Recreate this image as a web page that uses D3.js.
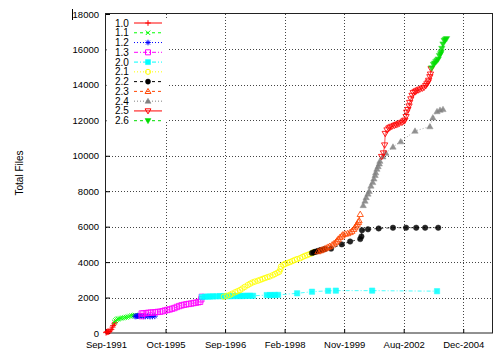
<!DOCTYPE html>
<html><head><meta charset="utf-8">
<script src="https://cdn.jsdelivr.net/npm/d3@7"></script>
<style>
html,body{margin:0;padding:0;background:#fff;}
svg{display:block;font-family:"Liberation Sans",Arial,sans-serif;}
</style></head>
<body>
<script>
// ---------- DATA ----------
const seriesNames = ["1.0","1.1","1.2","1.3","2.0","2.1","2.2","2.3","2.4","2.5","2.6"];
const xTickLabels = ["Sep-1991","Oct-1995","Sep-1996","Feb-1998","Nov-1999","Aug-2002","Dec-2004"];
const yTickValues = [0,2000,4000,6000,8000,10000,12000,14000,16000,18000];
// x position in axis-tick units (0 = first tick label), y = total files
const s10 = [[0,20],[0.01,60],[0.02,50],[0.03,90],[0.04,70],[0.05,80],[0.07,120],[0.09,200],[0.11,330],[0.12,420],[0.14,520],[0.15,600]];
const s11 = [[0.14,620],[0.16,700],[0.18,760],[0.2,790],[0.22,810],[0.25,830],[0.28,850],[0.31,870],[0.34,890],[0.37,920],[0.4,950],[0.43,970],[0.46,990],[0.49,1010]];
const s12 = [[0.49,940],[0.51,950],[0.53,960],[0.55,960],[0.57,970],[0.6,960],[0.63,950],[0.66,940],[0.7,950],[0.74,930],[0.78,940],[0.82,950]];
const s13 = [[0.6,950],[0.6,1100],[0.63,1110],[0.67,1120],[0.71,1140],[0.75,1150],[0.79,1160],[0.83,1170],[0.87,1190],[0.91,1200],[0.95,1230],[0.99,1270],[1.03,1300],[1.07,1330],[1.11,1370],[1.15,1410],[1.19,1470],[1.23,1520],[1.27,1560],[1.31,1590],[1.35,1620],[1.39,1640],[1.43,1660],[1.47,1690],[1.51,1710],[1.55,1740],[1.58,1760],[1.6,1900],[1.61,2040]];
const s20 = [[1.61,2030],[1.66,2050],[1.71,2055],[1.75,2060],[1.8,2065],[1.85,2070],[1.91,2080],[1.95,2080],[1.99,2080],[2.04,2080],[2.08,2080],[2.13,2085],[2.17,2090],[2.21,2090],[2.25,2090],[2.29,2090],[2.33,2095],[2.38,2100],[2.42,2100],[2.47,2100],[2.7,2140],[2.75,2140],[2.79,2140],[2.84,2145],[2.89,2150],[3.21,2240],[3.46,2330],[3.73,2380],[3.86,2390],[4.47,2390],[5.56,2360]];
const s21 = [[1.98,2050],[2.03,2100],[2.08,2150],[2.12,2220],[2.17,2300],[2.21,2360],[2.25,2420],[2.29,2510],[2.33,2600],[2.38,2700],[2.42,2780],[2.46,2850],[2.5,2900],[2.55,2950],[2.59,3000],[2.63,3050],[2.67,3100],[2.71,3150],[2.75,3190],[2.8,3260],[2.84,3330],[2.88,3400],[2.91,3450],[2.93,3600],[2.94,3750],[2.98,3850],[3.01,3900],[3.05,3950],[3.09,4000],[3.13,4060],[3.17,4120],[3.21,4170],[3.26,4220],[3.3,4290],[3.34,4350],[3.38,4400],[3.42,4450],[3.46,4500],[3.49,4560]];
const s22 = [[3.46,4520],[3.49,4550],[3.51,4580],[3.54,4600],[3.56,4630],[3.59,4660],[3.61,4680],[3.65,4710],[3.68,4740],[3.78,4760],[3.96,5000],[4.1,5160],[4.27,5300],[4.29,5450],[4.3,5800],[4.4,5850],[4.58,5900],[4.82,5940],[5.04,5940],[5.21,5940],[5.36,5940],[5.58,5940]];
const s23 = [[3.56,4600],[3.6,4650],[3.63,4700],[3.67,4750],[3.7,4800],[3.73,4850],[3.76,4900],[3.8,4980],[3.83,5050],[3.86,5130],[3.88,5200],[3.9,5300],[3.93,5400],[3.96,5480],[3.98,5550],[4.02,5590],[4.06,5620],[4.1,5680],[4.13,5750],[4.16,5850],[4.18,5950],[4.2,6050],[4.22,6150],[4.24,6250],[4.25,6350],[4.27,6700]];
const s24 = [[4.32,7200],[4.35,7450],[4.37,7650],[4.4,7850],[4.42,8000],[4.45,8300],[4.48,8500],[4.5,8700],[4.52,8900],[4.53,9050],[4.55,9250],[4.57,9400],[4.59,9550],[4.6,9700],[4.65,9950],[4.7,10150],[4.82,10500],[4.95,10800],[5.19,11400],[5.44,11650],[5.49,12150],[5.56,12500],[5.61,12580],[5.66,12620]];
const s25 = [[4.63,9950],[4.66,10150],[4.68,10600],[4.69,11250],[4.72,11450],[4.75,11550],[4.77,11600],[4.8,11650],[4.84,11700],[4.87,11740],[4.9,11780],[4.93,11830],[4.97,11880],[5.0,11950],[5.02,12000],[5.04,12200],[5.05,12450],[5.07,12600],[5.09,12800],[5.1,13000],[5.12,13200],[5.14,13400],[5.16,13550],[5.19,13600],[5.21,13650],[5.24,13700],[5.27,13750],[5.31,13800],[5.34,13850],[5.37,13950],[5.39,14050],[5.41,14150],[5.42,14250],[5.44,14450],[5.45,14600],[5.46,14900]];
const s26 = [[5.47,14950],[5.5,15150],[5.52,15220],[5.54,15300],[5.56,15380],[5.58,15450],[5.6,15650],[5.62,15750],[5.63,15850],[5.64,16050],[5.66,16300],[5.68,16500],[5.7,16560],[5.72,16600]];

const seriesData = [s10,s11,s12,s13,s20,s21,s22,s23,s24,s25,s26];
const colors = ["#ff0000","#00ff00","#0000ff","#ff00ff","#00ffff","#ffff00","#000000","#ff4500","#808080","#ff0000","#00dd00"];
const markers = ["plus","cross","star","squareOpen","squareFilled","circleOpen","circleFilled","triOpen","triFilled","triDownOpen","triDownFilled"];
const dashes = [null,"3,3","1,2","4,2,1,2","4,2,1,2","1,2","3,3","3,3","1,2",null,"3,3"];

// ---------- LAYOUT ----------
const W = 494, H = 349;
const pLeft = 106, pRight = 493, pTop = 14, pBottom = 333;
const x = d3.scaleLinear().domain([0, 6.5]).range([pLeft, pRight]);
const y = d3.scaleLinear().domain([0, 18000]).range([pBottom, pTop]);

const svg = d3.select("body").append("svg").attr("width", W).attr("height", H);

// grid
const grid = svg.append("g").attr("stroke", "#444").attr("stroke-width", 1).attr("stroke-dasharray", "1,2");
grid.selectAll("line.v").data(d3.range(1, xTickLabels.length)).enter().append("line")
  .attr("x1", d => Math.round(x(d)) + 0.5).attr("x2", d => Math.round(x(d)) + 0.5)
  .attr("y1", pTop).attr("y2", pBottom);
grid.selectAll("line.h").data(yTickValues.slice(1, -1)).enter().append("line")
  .attr("y1", d => Math.round(y(d)) + 0.5).attr("y2", d => Math.round(y(d)) + 0.5)
  .attr("x1", pLeft).attr("x2", pRight);

// axes
const fontTick = "9.5px";
const yAxis = d3.axisLeft(y).tickValues(yTickValues).tickFormat(d3.format("d"))
  .tickSizeInner(-4).tickSizeOuter(0).tickPadding(7);
const gy = svg.append("g").attr("transform", `translate(${pLeft},0)`).call(yAxis);
gy.select(".domain").remove();
gy.selectAll("text").attr("font-size", fontTick).attr("fill", "#000").attr("font-family", "Liberation Sans, Arial, sans-serif");
gy.selectAll("line").attr("stroke", "#000");

const xAxis = d3.axisBottom(x).tickValues(d3.range(xTickLabels.length)).tickFormat(i => xTickLabels[i])
  .tickSizeInner(-4).tickSizeOuter(0).tickPadding(8);
const gx = svg.append("g").attr("transform", `translate(0,${pBottom})`).call(xAxis);
gx.select(".domain").remove();
gx.selectAll("text").attr("font-size", fontTick).attr("fill", "#000").attr("font-family", "Liberation Sans, Arial, sans-serif");
gx.selectAll("line").attr("stroke", "#000");

// frame
svg.append("rect").attr("x", pLeft - 0.5).attr("y", pTop - 0.5).attr("width", pRight - pLeft).attr("height", pBottom - pTop + 0.5)
  .attr("fill", "none").attr("stroke", "#222").attr("stroke-width", 1);

// stray mark near top label
svg.append("line").attr("x1", 72.5).attr("x2", 72.5).attr("y1", 9).attr("y2", 20).attr("stroke", "#000");

// y title
svg.append("text").attr("transform", "translate(23,173) rotate(-90)").attr("text-anchor", "middle")
  .attr("font-size", "10px").attr("fill", "#000").text("Total Files");

// marker generator
function markerPath(type, size) {
  const s = size;
  switch (type) {
    case "plus": return `M${-s},0H${s}M0,${-s}V${s}`;
    case "cross": return `M${-s*0.8},${-s*0.8}L${s*0.8},${s*0.8}M${-s*0.8},${s*0.8}L${s*0.8},${-s*0.8}`;
    case "star": return `M${-s},0H${s}M0,${-s}V${s}M${-s*0.7},${-s*0.7}L${s*0.7},${s*0.7}M${-s*0.7},${s*0.7}L${s*0.7},${-s*0.7}`;
    case "squareOpen": case "squareFilled": return d3.symbol(d3.symbolSquare, s*s*3.2)();
    case "circleOpen": case "circleFilled": return d3.symbol(d3.symbolCircle, s*s*2.6)();
    case "triOpen": case "triFilled": return `M0,${-s*1.05}L${s*1.05},${s*0.75}L${-s*1.05},${s*0.75}Z`;
    case "triDownOpen": case "triDownFilled": return `M0,${s*1.05}L${s*1.05},${-s*0.75}L${-s*1.05},${-s*0.75}Z`;
  }
}
function isFilled(t) { return /Filled/.test(t); }
function isLineOnly(t) { return t === "plus" || t === "cross" || t === "star"; }

function drawMarker(g, type, color, cx, cy, size) {
  const p = g.append("path").attr("d", markerPath(type, size)).attr("transform", `translate(${cx},${cy})`);
  if (isLineOnly(type)) p.attr("fill", "none").attr("stroke", color).attr("stroke-width", 1);
  else if (isFilled(type)) p.attr("fill", color).attr("stroke", color).attr("stroke-width", 0.5);
  else p.attr("fill", "none").attr("stroke", color).attr("stroke-width", 1);
  return p;
}

// series
const plot = svg.append("g");
const line = d3.line().x(d => x(d[0])).y(d => y(d[1]));
seriesData.forEach((data, i) => {
  const g = plot.append("g");
  g.append("path").datum(data).attr("d", line).attr("fill", "none")
    .attr("stroke", colors[i]).attr("stroke-width", 1).attr("stroke-opacity", 0.7)
    .attr("stroke-dasharray", dashes[i]);
  data.forEach(d => {
    drawMarker(g, markers[i], colors[i], x(d[0]), y(d[1]), 3).attr("opacity", 0.85);
  });
});

// legend
const lg = svg.append("g");
lg.append("rect").attr("x", pLeft + 0.5).attr("y", 19).attr("width", 61).attr("height", 103).attr("fill", "#fff");
seriesNames.forEach((name, i) => {
  const cy = 23 + i * 9.77;
  lg.append("text").attr("x", 115).attr("y", cy).attr("dy", "0.35em").attr("font-size", "10px").attr("fill", "#000").text(name);
  lg.append("line").attr("x1", 134).attr("x2", 162).attr("y1", cy).attr("y2", cy)
    .attr("stroke", colors[i]).attr("stroke-width", 1).attr("stroke-dasharray", dashes[i]);
  drawMarker(lg, markers[i], colors[i], 148, cy, 2.8);
});
</script>
</body></html>
